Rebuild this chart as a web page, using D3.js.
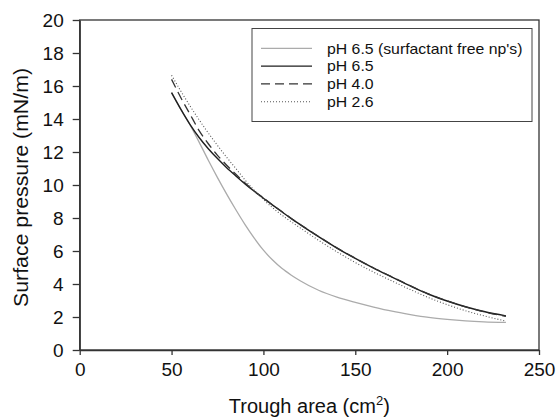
<!DOCTYPE html>
<html><head><meta charset="utf-8">
<script src="https://cdn.jsdelivr.net/npm/d3@7"></script>
<style>
body{margin:0;background:#fff;}
svg text{font-family:"Liberation Sans",Arial,sans-serif;fill:#111;}
</style></head>
<body><svg id="c" width="558" height="418"></svg>
<script>
const areaX    = [50,55,60,65,70,75,80,85,90,95,100,105,110,115,120,130,140,150,160,170,180,190,200,210,220,232];
const surfFree = [15.6,14.6,13.65,12.6,11.5,10.45,9.45,8.5,7.6,6.78,6.05,5.45,4.95,4.55,4.2,3.62,3.2,2.88,2.6,2.35,2.15,1.98,1.86,1.77,1.71,1.67];
const ph65     = [15.6,14.6,13.68,12.88,12.2,11.6,11.05,10.55,10.07,9.62,9.2,8.78,8.38,7.98,7.6,6.87,6.18,5.55,4.96,4.42,3.88,3.38,2.97,2.62,2.33,2.07];
const ph40     = [16.4,15.3,14.3,13.3,12.5,11.8,11.2,10.65,10.12,9.64,9.21,8.79,8.39,7.99,7.61,6.88,6.19,5.56,4.97,4.43,3.89,3.39,2.98,2.62,2.32,2.04];
const ph26     = [16.65,15.7,14.8,13.95,13.15,12.4,11.68,11.0,10.3,9.68,9.12,8.62,8.18,7.78,7.4,6.65,5.95,5.3,4.72,4.18,3.66,3.17,2.75,2.38,2.07,1.75];
const seriesNames = ["pH 6.5 (surfactant free np's)","pH 6.5","pH 4.0","pH 2.6"];
const xTicks = [0,50,100,150,200,250];
const yTicks = [0,2,4,6,8,10,12,14,16,18,20];

const series = [
  {name:seriesNames[0], vals:surfFree, color:"#ababab", dash:null, w:1.3},
  {name:seriesNames[1], vals:ph65, color:"#1e1e1e", dash:null, w:1.4},
  {name:seriesNames[2], vals:ph40, color:"#333333", dash:"9,5", w:1.3},
  {name:seriesNames[3], vals:ph26, color:"#555555", dash:"1,2", w:1.1}
];

const svg = d3.select("#c");
const L=79.7, R=539, T=20, B=350;
const x = d3.scaleLinear().domain([0,250]).range([L,R]);
const y = d3.scaleLinear().domain([0,20]).range([B,T]);

// frame
svg.append("rect").attr("x",L).attr("y",T).attr("width",R-L).attr("height",B-T)
  .attr("fill","none").attr("stroke","#333").attr("stroke-width",1.3);

const xa = svg.append("g").attr("transform",`translate(0,${B})`)
  .call(d3.axisBottom(x).tickValues(xTicks).tickSize(5).tickPadding(7.5).tickSizeOuter(0));
const ya = svg.append("g").attr("transform",`translate(${L},0)`)
  .call(d3.axisLeft(y).tickValues(yTicks).tickSize(7).tickPadding(9).tickSizeOuter(0));
[xa,ya].forEach(a=>{
  a.select(".domain").attr("stroke","#333").attr("stroke-width",1.3);
  a.selectAll(".tick line").attr("stroke","#333").attr("stroke-width",1.3);
  a.selectAll(".tick text").attr("font-size","19px").attr("fill","#111")
   .style("font-family","'Liberation Sans',Arial,sans-serif");
});
ya.selectAll(".tick text").attr("dy","0.36em");

const line = d3.line().curve(d3.curveMonotoneX);
series.forEach(s=>{
  svg.append("path")
    .attr("d", line(areaX.map((a,i)=>[x(a), y(s.vals[i])])))
    .attr("fill","none").attr("stroke",s.color).attr("stroke-width",s.w)
    .attr("stroke-dasharray",s.dash);
});

// legend
svg.append("rect").attr("x",252).attr("y",28.5).attr("width",280).attr("height",93)
  .attr("fill","#fff").attr("stroke","#444").attr("stroke-width",1);
series.forEach((s,i)=>{
  const yy = 48.3 + i*17.8;
  svg.append("line").attr("x1",261).attr("x2",312).attr("y1",yy).attr("y2",yy)
    .attr("stroke",s.color).attr("stroke-width",s.w).attr("stroke-dasharray",s.dash);
  const t = svg.append("text").attr("x",327).attr("y",yy+5.2).attr("font-size","14.5px").text(s.name);
  const w = t.node().getComputedTextLength();
  t.attr("textLength", w*1.09).attr("lengthAdjust","spacingAndGlyphs");
});

// axis titles
const xt = svg.append("text").attr("x",(L+R)/2).attr("y",413).attr("text-anchor","middle")
  .attr("font-size","20px");
xt.append("tspan").text("Trough area (cm");
xt.append("tspan").attr("font-size","13px").attr("dy","-8").text("2");
xt.append("tspan").attr("dy","8").text(")");

svg.append("text").attr("transform","translate(28,187.5) rotate(-90)")
  .attr("text-anchor","middle").attr("font-size","20px")
  .attr("textLength",239).attr("lengthAdjust","spacingAndGlyphs")
  .text("Surface pressure (mN/m)");
</script></body></html>
